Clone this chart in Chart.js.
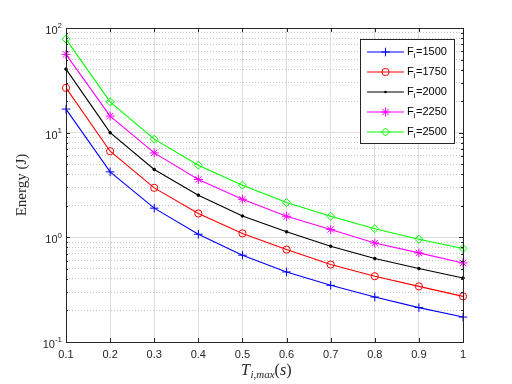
<!DOCTYPE html>
<html>
<head>
<meta charset="utf-8">
<script src="https://cdn.jsdelivr.net/npm/chart.js@4.4.1/dist/chart.umd.min.js"></script>
<style>
  html, body { margin: 0; padding: 0; background: #fff; }
</style>
</head>
<body>
<canvas id="chart" width="512" height="384"></canvas>
<script>
// T_i,max values (s)
const tValues = [0.1, 0.2, 0.3, 0.4, 0.5, 0.6, 0.7, 0.8, 0.9, 1.0];

// energy (J) per F_i
const e1500 = [16.8, 4.22, 1.90, 1.07, 0.675, 0.467, 0.348, 0.269, 0.213, 0.173];
const e1750 = [26.8, 6.65, 2.97, 1.69, 1.09, 0.764, 0.55, 0.425, 0.34, 0.273];
const e2000 = [40.5, 10.0, 4.45, 2.53, 1.60, 1.13, 0.822, 0.627, 0.503, 0.409];
const e2250 = [56.0, 14.4, 6.41, 3.57, 2.31, 1.59, 1.19, 0.883, 0.71, 0.569];
const e2500 = [78.3, 19.7, 8.67, 4.89, 3.15, 2.15, 1.59, 1.21, 0.959, 0.782];

const fLabels = ['1500', '1750', '2000', '2250', '2500'];
const yTickValues = [0.1, 1, 10, 100];
const yTickExps = ['-1', '0', '1', '2'];

const colors = ['#0000ff', '#ff0000', '#000000', '#ff00ff', '#00ff00'];
const markers = ['cross', 'circle', 'dot', 'star', 'diamond'];

const isDecade = v => Math.abs(Math.log10(v) - Math.round(Math.log10(v))) < 1e-9;
const isWhole = v => {
  const m = v / Math.pow(10, Math.floor(Math.log10(v) + 1e-9));
  return Math.abs(m - Math.round(m)) < 1e-6;
};

function toPoints(arr) {
  return tValues.map((t, i) => ({ x: t, y: arr[i] }));
}

function styleFor(i) {
  const m = markers[i];
  const base = {
    borderColor: colors[i],
    pointBorderColor: colors[i],
    pointBorderWidth: 1,
    borderWidth: 1.1,
    pointBackgroundColor: 'rgba(0,0,0,0)',
    tension: 0,
    clip: false
  };
  if (m === 'cross') return { ...base, pointStyle: 'cross', pointRadius: 4.3 };
  if (m === 'circle') return { ...base, pointStyle: 'circle', pointRadius: 3.6 };
  if (m === 'dot') return { ...base, pointStyle: 'circle', pointRadius: 1.3, pointBackgroundColor: colors[i] };
  if (m === 'star') return { ...base, pointStyle: 'star', pointRadius: 4.5 };
  return { ...base, pointStyle: 'rectRot', pointRadius: 4 };
}

const seriesList = [e1500, e1750, e2000, e2250, e2500];
const datasets = seriesList.map((s, i) => ({
  label: 'F_i=' + fLabels[i],
  data: toPoints(s),
  ...styleFor(i)
}));

function drawMarker(ctx, m, x, y, color) {
  ctx.save();
  ctx.strokeStyle = color;
  ctx.fillStyle = color;
  ctx.lineWidth = 1;
  ctx.beginPath();
  if (m === 'cross') {
    ctx.moveTo(x - 4.3, y); ctx.lineTo(x + 4.3, y);
    ctx.moveTo(x, y - 4.3); ctx.lineTo(x, y + 4.3);
    ctx.stroke();
  } else if (m === 'circle') {
    ctx.arc(x, y, 3.6, 0, Math.PI * 2);
    ctx.stroke();
  } else if (m === 'dot') {
    ctx.arc(x, y, 1.3, 0, Math.PI * 2);
    ctx.fill();
  } else if (m === 'star') {
    const r = 4.5, d = r * Math.SQRT1_2;
    ctx.moveTo(x - r, y); ctx.lineTo(x + r, y);
    ctx.moveTo(x, y - r); ctx.lineTo(x, y + r);
    ctx.moveTo(x - d, y - d); ctx.lineTo(x + d, y + d);
    ctx.moveTo(x - d, y + d); ctx.lineTo(x + d, y - d);
    ctx.stroke();
  } else {
    ctx.moveTo(x, y - 4); ctx.lineTo(x + 4, y); ctx.lineTo(x, y + 4); ctx.lineTo(x - 4, y);
    ctx.closePath();
    ctx.stroke();
  }
  ctx.restore();
}

// box, inward ticks, y labels with exponents, x title with subscript, legend
const matlabAxes = {
  id: 'matlabAxes',
  afterDraw(chart) {
    const ctx = chart.ctx;
    const a = chart.chartArea;
    const xs = chart.scales.x, ys = chart.scales.y;
    const axisColor = '#262626';
    ctx.save();

    // ticks
    ctx.strokeStyle = axisColor;
    ctx.lineWidth = 1;
    ctx.beginPath();
    xs.ticks.forEach(t => {
      const px = Math.round(xs.getPixelForValue(t.value)) + 0.5;
      ctx.moveTo(px, a.bottom); ctx.lineTo(px, a.bottom - 4);
      ctx.moveTo(px, a.top); ctx.lineTo(px, a.top + 4);
    });
    ys.ticks.forEach(t => {
      if (!isWhole(t.value)) return;
      const len = isDecade(t.value) ? 4 : 2;
      const py = Math.round(ys.getPixelForValue(t.value)) + 0.5;
      ctx.moveTo(a.left, py); ctx.lineTo(a.left + len, py);
      ctx.moveTo(a.right, py); ctx.lineTo(a.right - len, py);
    });
    ctx.stroke();

    // box
    ctx.strokeRect(Math.round(a.left) + 0.5, Math.round(a.top) + 0.5,
      Math.round(a.right - a.left), Math.round(a.bottom - a.top));

    // y tick labels 10^n
    ctx.fillStyle = axisColor;
    ctx.textBaseline = 'middle';
    ctx.textAlign = 'right';
    yTickValues.forEach((v, i) => {
      const py = ys.getPixelForValue(v);
      const right = a.left - 4;
      ctx.font = '8px "Liberation Sans", Arial, sans-serif';
      const ew = ctx.measureText(yTickExps[i]).width;
      ctx.fillText(yTickExps[i], right, py - 2);
      ctx.font = '11px "Liberation Sans", Arial, sans-serif';
      ctx.fillText('10', right - ew, py + 3);
    });

    // x title: T_{i,max}(s)
    ctx.textAlign = 'left';
    ctx.textBaseline = 'alphabetic';
    const parts = [
      { s: 'T', f: 'italic 16px "Liberation Serif", serif', dy: 0 },
      { s: 'i,max', f: 'italic 11px "Liberation Serif", serif', dy: 3 },
      { s: '(', f: '16px "Liberation Serif", serif', dy: 0 },
      { s: 's', f: 'italic 16px "Liberation Serif", serif', dy: 0 },
      { s: ')', f: '16px "Liberation Serif", serif', dy: 0 }
    ];
    let total = 0;
    parts.forEach(p => { ctx.font = p.f; p.w = ctx.measureText(p.s).width; total += p.w; });
    let cx = (a.left + a.right) / 2 + 1.5 - total / 2;
    const base = 375;
    parts.forEach(p => {
      ctx.font = p.f;
      ctx.fillText(p.s, cx, base + p.dy);
      cx += p.w + (p.s === 'T' ? 0.5 : 0);
    });

    // legend
    const lx = 360.5, ly = 39.5, lw = 94, lh = 104;
    ctx.fillStyle = '#ffffff';
    ctx.fillRect(lx, ly, lw, lh);
    ctx.strokeStyle = axisColor;
    ctx.strokeRect(lx, ly, lw, lh);
    chart.data.datasets.forEach((ds, i) => {
      const ry = 52 + 20 * i;
      ctx.strokeStyle = colors[i];
      ctx.lineWidth = 1.1;
      ctx.beginPath();
      ctx.moveTo(367, ry); ctx.lineTo(404, ry);
      ctx.stroke();
      drawMarker(ctx, markers[i], 385.5, ry, colors[i]);
      ctx.fillStyle = '#000000';
      ctx.textBaseline = 'middle';
      ctx.font = '11px "Liberation Sans", Arial, sans-serif';
      let tx = 407;
      ctx.fillText('F', tx, ry);
      tx += ctx.measureText('F').width;
      ctx.font = '8px "Liberation Sans", Arial, sans-serif';
      ctx.fillText('i', tx, ry + 3.5);
      tx += ctx.measureText('i').width + 0.5;
      ctx.font = '11px "Liberation Sans", Arial, sans-serif';
      ctx.fillText('=' + fLabels[i], tx, ry);
    });

    ctx.restore();
  }
};

new Chart(document.getElementById('chart'), {
  type: 'line',
  data: { datasets },
  options: {
    responsive: false,
    animation: false,
    layout: { padding: { top: 28, right: 49, left: 0, bottom: 0 } },
    plugins: {
      legend: { display: false },
      tooltip: { enabled: false }
    },
    scales: {
      x: {
        type: 'linear',
        min: 0.1,
        max: 1,
        ticks: {
          stepSize: 0.1,
          padding: 6,
          color: '#262626',
          font: { family: '"Liberation Sans", Arial, sans-serif', size: 11 },
          callback: v => {
            const r = Math.round(v * 10) / 10;
            return r === 1 ? '1' : r.toFixed(1);
          }
        },
        grid: { color: '#dedede', drawTicks: false },
        border: { display: false },
        afterFit: s => { s.height = 42; }
      },
      y: {
        type: 'logarithmic',
        min: 0.1,
        max: 100,
        ticks: { display: false },
        grid: {
          drawTicks: false,
          color: c => {
            const v = c.tick.value;
            if (isDecade(v)) return '#dedede';
            return isWhole(v) ? '#c4c4c4' : 'rgba(0,0,0,0)';
          }
        },
        border: {
          display: false,
          dash: c => (c.tick && !isDecade(c.tick.value)) ? [1, 2] : []
        },
        title: {
          display: true,
          text: 'Energy (J)',
          color: '#262626',
          font: { family: '"Liberation Serif", serif', size: 15 },
          padding: { top: 13, bottom: 0 }
        },
        afterFit: s => { s.width = 66; }
      }
    }
  },
  plugins: [matlabAxes]
});
</script>
</body>
</html>
